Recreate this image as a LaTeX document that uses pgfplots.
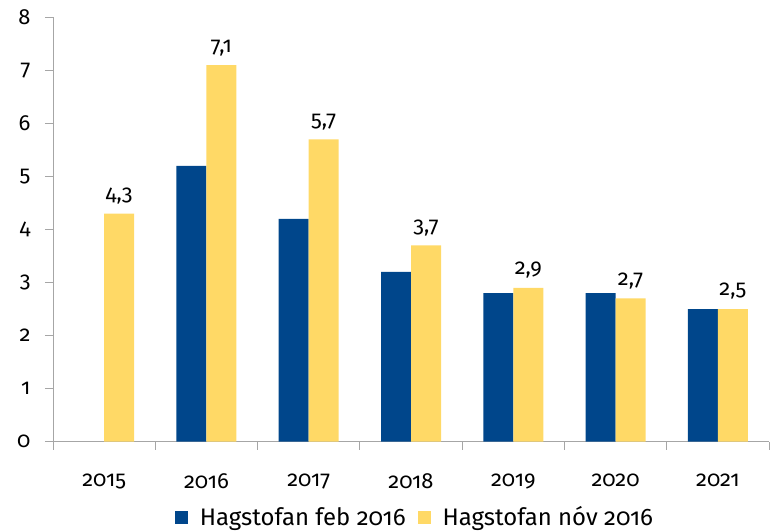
\documentclass[border=0pt]{standalone}
\usepackage{fontspec}
\setmainfont[Numbers=OldStyle]{Fira Sans}
\usepackage{pgfplots}
\pgfplotsset{compat=1.18}
\definecolor{cblue}{HTML}{00468B}
\definecolor{cyellow}{HTML}{FFD966}
\definecolor{axgray}{HTML}{A6A6A6}
\begin{document}
\begin{tikzpicture}
\begin{axis}[
  at={(0bp,0bp)}, anchor=south west,
  scale only axis, width=716bp, height=424bp,
  xmin=-0.5, xmax=6.5, ymin=0, ymax=8,
  axis lines*=left,
  axis line style={axgray, line width=0.8bp},
  /pgf/number format/assume math mode=true,
  ytick={0,...,8},
  xtick={0,...,6}, xticklabels={2015,2016,2017,2018,2019,2020,2021},
  minor xtick={-0.5,0.5,...,6.5},
  major x tick style={draw=none},
  tick align=outside,
  major tick length=8bp, minor tick length=8bp,
  tick style={axgray, line width=0.8bp},
  every tick label/.style={font=\fontsize{22}{26}\selectfont, text=black},
  every x tick label/.style={yshift=-21bp},
  every y tick label/.style={xshift=-11bp},
  ybar=0pt, bar width=30bp,
  legend style={draw=none, at={(axis description cs:0.5,0)}, anchor=center, yshift=-75.5bp, xshift=4bp,
    font=\fontsize{24}{28}\selectfont, column sep=10bp},
  legend columns=2,
  legend image code/.code={\fill[#1] (0bp,-6.5bp) rectangle (13bp,6.5bp);},
]
\addplot[fill=cblue, draw=none] coordinates {(1,5.2) (2,4.2) (3,3.2) (4,2.8) (5,2.8) (6,2.5)};
\addlegendentry{Hagstofan feb 2016}
\addplot[fill=cyellow, draw=none, nodes near coords,
  nodes near coords style={/pgf/number format/use comma, /pgf/number format/fixed, /pgf/number format/fixed zerofill, /pgf/number format/precision=1},
  every node near coord/.append style={font=\fontsize{22}{26}\selectfont, text=black, anchor=south, yshift=6bp}]
  coordinates {(0,4.3) (1,7.1) (2,5.7) (3,3.7) (4,2.9) (5,2.7) (6,2.5)};
\addlegendentry{Hagstofan nóv 2016}
\end{axis}
\pgfresetboundingbox
\useasboundingbox (-53bp,-89.5bp) rectangle (717bp,441.5bp);
\end{tikzpicture}
\end{document}
